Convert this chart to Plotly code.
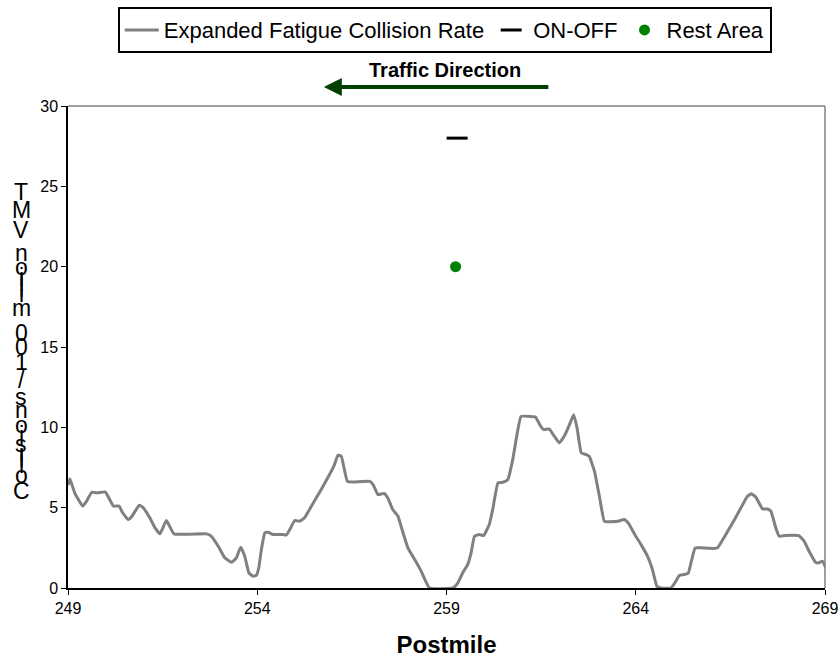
import plotly.graph_objects as go

# ---------------- data ----------------
postmile = [249.0, 249.05, 249.18, 249.39, 249.49, 249.63, 249.76, 249.98, 250.06, 250.2,
            250.35, 250.44, 250.59, 250.68, 250.88, 250.99, 251.16, 251.3, 251.43, 251.6,
            251.8, 252.66, 252.79, 252.97, 253.14, 253.32, 253.45, 253.56, 253.67, 253.78,
            253.89, 253.98, 254.04, 254.11, 254.2, 254.28, 254.42, 254.68, 254.77, 254.86,
            254.99, 255.12, 255.25, 255.43, 255.69, 255.91, 256.04, 256.13, 256.22, 256.38,
            256.53, 256.97, 257.06, 257.19, 257.35, 257.45, 257.58, 257.72, 257.8, 257.98,
            258.16, 258.33, 258.55, 259.17, 259.3, 259.43, 259.56, 259.65, 259.74, 259.87,
            259.98, 260.13, 260.22, 260.36, 260.49, 260.62, 260.75, 260.84, 260.97, 261.22,
            261.35, 261.49, 261.57, 261.71, 261.85, 261.98, 262.11, 262.25, 262.36, 262.45,
            262.56, 262.69, 262.77, 262.91, 263.04, 263.17, 263.3, 263.52, 263.7, 263.83,
            263.98, 264.14, 264.31, 264.44, 264.56, 264.66, 264.93, 265.06, 265.15, 265.28,
            265.39, 265.47, 265.57, 265.72, 266.07, 266.16, 266.38, 266.6, 266.78, 266.95,
            267.06, 267.17, 267.35, 267.48, 267.57, 267.7, 267.79, 267.92, 268.31, 268.45,
            268.58, 268.75, 268.84, 268.93, 269.06]
collision_rate = [6.4, 6.8, 5.9, 5.1, 5.4, 5.96, 5.92, 5.98, 5.7, 5.1,
                  5.1, 4.7, 4.26, 4.43, 5.15, 4.99, 4.37, 3.74, 3.37, 4.2,
                  3.37, 3.37, 3.22, 2.6, 1.88, 1.6, 1.88, 2.54, 1.98, 0.94,
                  0.73, 0.8, 1.25, 2.4, 3.43, 3.47, 3.33, 3.33, 3.3, 3.64,
                  4.2, 4.16, 4.37, 5.09, 6.13, 7.06, 7.68, 8.26, 8.2, 6.64,
                  6.6, 6.64, 6.44, 5.81, 5.88, 5.6, 4.88, 4.47, 3.84, 2.5,
                  1.77, 1.05, 0.0, 0.0, 0.32, 0.95, 1.46, 2.19, 3.22, 3.33,
                  3.26, 3.95, 4.88, 6.54, 6.58, 6.75, 7.99, 9.24, 10.68, 10.68,
                  10.64, 10.06, 9.86, 9.9, 9.44, 9.03, 9.44, 10.17, 10.79, 9.96,
                  8.41, 8.3, 8.2, 7.26, 5.71, 4.15, 4.12, 4.15, 4.26, 3.95,
                  3.3, 2.7, 1.98, 1.15, 0.11, 0.0, 0.0, 0.42, 0.78, 0.84,
                  0.94, 1.67, 2.5, 2.5, 2.46, 2.5, 3.33, 4.22, 4.99, 5.71,
                  5.86, 5.67, 4.92, 4.92, 4.78, 3.74, 3.22, 3.26, 3.26, 2.91,
                  2.29, 1.6, 1.57, 1.67, 1.05]

on_off_pm = [259.28]
on_off_val = [28]
rest_area_pm = [259.24]
rest_area_val = [20]

x_ticks = [249, 254, 259, 264, 269]
y_ticks = [0, 5, 10, 15, 20, 25, 30]

series_names = ["Expanded Fatigue Collision Rate", "ON-OFF", "Rest Area"]
x_title = "Postmile"
y_title = "Collisions / 100 million VMT"
direction_label = "Traffic Direction"

# ---------------- figure ----------------
fig = go.Figure()
fig.add_trace(go.Scatter(x=postmile, y=collision_rate, mode="lines", name=series_names[0],
                         line=dict(color="#808080", width=3, shape="spline", smoothing=0.35)))
fig.add_trace(go.Scatter(x=on_off_pm, y=on_off_val, mode="markers", name=series_names[1],
                         marker=dict(symbol="line-ew", size=15, color="black",
                                     line=dict(color="black", width=3))))
fig.add_trace(go.Scatter(x=rest_area_pm, y=rest_area_val, mode="markers", name=series_names[2],
                         marker=dict(symbol="circle", size=11, color="#008000")))

FONT = "Liberation Sans, Arial, sans-serif"

# figure fills the 839x660 window (body margin removed below)
W, H = 839, 660
L, T = 68, 106
R, B = 13.5, 71.5
pw, ph = W - L - R, H - T - B

def px_x(px):
    return (px - L) / pw

def px_y(py):
    return (H - B - py) / ph

annotations = []
# Traffic direction label + arrow
annotations.append(dict(text="<b>%s</b>" % direction_label, xref="paper", yref="paper",
                        x=px_x(445), y=px_y(70), showarrow=False,
                        xanchor="center", yanchor="middle",
                        font=dict(family=FONT, size=20, color="black")))
annotations.append(dict(text="", xref="paper", yref="paper", axref="pixel", ayref="pixel",
                        x=px_x(324), y=px_y(87), ax=226, ay=0, showarrow=True,
                        arrowhead=2, arrowsize=0.9, arrowwidth=4, arrowcolor="#004000"))

# Stacked (upright, reversed) y-axis title characters
adv = {"C": .722, "o": .556, "l": .222, "i": .222, "s": .5, "n": .556, " ": .278, "/": .278,
       "1": .556, "0": .556, "m": .833, "V": .667, "M": .833, "T": .611}
top_px, bot_px = 184, 501
total = sum(adv.get(c, .556) for c in y_title)
scale = (bot_px - top_px) / total
cum = 0.0
for ch in y_title:
    w = adv.get(ch, .556)
    cy = bot_px - (cum + w / 2) * scale
    cum += w
    if ch == " ":
        continue
    annotations.append(dict(text=ch, xref="paper", yref="paper",
                            x=px_x(21), y=px_y(cy),
                            showarrow=False, xanchor="center", yanchor="middle",
                            font=dict(family=FONT, size=23, color="black")))

shapes = [
    dict(type="line", xref="paper", yref="paper", x0=0, x1=1, y0=1, y1=1,
         line=dict(color="#808080", width=1.5)),
    dict(type="line", xref="paper", yref="paper", x0=1, x1=1, y0=0, y1=1,
         line=dict(color="#808080", width=1.5)),
]

fig.update_layout(
    width=W, height=H,
    margin=dict(l=L, r=R, t=T, b=B, pad=0, autoexpand=False),
    paper_bgcolor="white", plot_bgcolor="white",
    font=dict(family=FONT, color="black"),
    showlegend=True,
    legend=dict(orientation="h", x=px_x(445), xanchor="center", y=px_y(7), yanchor="top",
                bordercolor="black", borderwidth=2, bgcolor="white",
                font=dict(family=FONT, size=22, color="black"),
                itemwidth=34, tracegroupgap=0),
    xaxis=dict(range=[249, 269], tickmode="array", tickvals=x_ticks,
               ticktext=[str(t) for t in x_ticks], automargin=False,
               showline=True, linecolor="black", linewidth=1.5,
               ticks="outside", ticklen=5, tickcolor="black", showgrid=False, zeroline=False,
               tickfont=dict(family=FONT, size=16, color="black"),
               title=dict(text="<b>%s</b>" % x_title, standoff=20,
                          font=dict(family=FONT, size=24, color="black"))),
    yaxis=dict(range=[0, 30], tickmode="array", tickvals=y_ticks, automargin=False,
               showline=True, linecolor="black", linewidth=1.5,
               ticks="outside", ticklen=5, tickcolor="black", showgrid=False, zeroline=False,
               tickfont=dict(family=FONT, size=16, color="black")),
    annotations=annotations,
    shapes=shapes,
)

fig.write_html("out.html", config={"displayModeBar": False},
               post_script="document.body.style.margin='0';document.body.style.overflow='hidden';")
